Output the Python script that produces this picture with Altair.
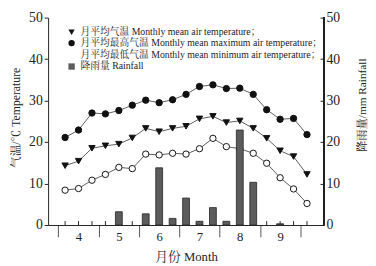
import altair as alt
import pandas as pd

# ---- data (dekads from early April to early October) ----
idx = list(range(1, 20))
t_max = [21.1, 22.9, 27.0, 26.8, 27.6, 28.9, 30.1, 29.5, 30.2, 31.5,
         33.4, 33.8, 32.9, 33.0, 31.5, 27.8, 25.5, 25.7, 21.8]
t_mean = [14.3, 15.4, 18.5, 19.1, 19.5, 21.0, 23.3, 22.5, 23.3, 23.8,
          25.6, 26.2, 24.7, 25.1, 23.3, 20.9, 17.9, 16.5, 12.2]
t_min = [8.4, 8.8, 10.8, 12.2, 13.9, 13.6, 17.1, 16.9, 17.3, 17.1,
         18.4, 20.9, 18.9, 18.4, 17.3, 14.9, 11.4, 8.7, 5.2]
rain = [0, 0, 0, 0, 3.2, 0, 2.7, 13.8, 1.6, 6.5,
        0.9, 4.2, 0.9, 22.9, 10.3, 0, 0.3, 0, 0]
month_labels = ["4", "5", "6", "7", "8", "9"]
y_ticks = [0, 10, 20, 30, 40, 50]

s_mean = "月平均气温 Monthly mean air temperature；"
s_max = "月平均最高气温 Monthly mean maximum air temperature；"
s_min = "月平均最低气温 Monthly mean minimum air temperature；"
s_rain = "降雨量 Rainfall"
series_order = [s_mean, s_max, s_min, s_rain]

rows = []
for name, vals in [(s_mean, t_mean), (s_max, t_max), (s_min, t_min)]:
    for i, v in zip(idx, vals):
        rows.append({"idx": i, "value": v, "series": name})
temp = pd.DataFrame(rows)
rain_df = pd.DataFrame({"idx": idx, "rain": rain})
idx_df = pd.DataFrame({"idx": idx})

FONT = "Liberation Serif, Noto Serif CJK SC, Noto Sans CJK SC"
W, H = 282, 212
BAR_FILL = "#5c5c5c"

# x axis: separators between months + month labels in the middle
sep_vals = [0.5 + 3 * k for k in range(7)]
lab_vals = [2 + 3 * k for k in range(len(month_labels))]
x_vals = sorted(sep_vals + lab_vals)
labels_js = "[" + ",".join("'" + m + "'" for m in month_labels) + "]"
label_expr = "datum.value % 3 == 2 ? " + labels_js + "[(datum.value - 2) / 3] : ''"

xscale = alt.Scale(domain=[0.1, 19.9], nice=False, zero=False)
xaxis = alt.Axis(
    values=x_vals,
    title="月份 Month",
    labelExpr=label_expr,
    tickSize=12,
    tickColor={"condition": {"test": "datum.value % 3 == 2", "value": "transparent"}, "value": "#555"},
    labelPadding=-6,
    labelFontSize=13,
    labelFlush=False,
    grid=False,
    titleFontSize=13,
    titleY=32,
    titleBaseline="middle",
)
X = alt.X("idx:Q", scale=xscale, axis=xaxis)

yscale_l = alt.Scale(domain=[0, 50], nice=False)
yscale_r = alt.Scale(domain=[0, 50], nice=False)
yaxis_l = alt.Axis(orient="left", values=y_ticks, title="气温/℃   Temperature",
                   tickSize=4, labelPadding=2, labelFontSize=14, grid=False,
                   titleFontSize=12, titleAngle=270, titleX=-33, titleY=102,
                   titleAlign="center", titleBaseline="middle")
yaxis_r = alt.Axis(orient="right", values=y_ticks, title="降雨量/mm  Rainfall",
                   tickSize=4, offset=-4, domain=False, labelPadding=2,
                   labelFontSize=14, grid=False,
                   titleFontSize=11.5, titleAngle=270, titleX=43, titleY=89,
                   titleAlign="center", titleBaseline="middle")

legend = alt.Legend(orient="none", legendX=19, legendY=10, title=None,
                    labelFont=FONT, labelFontSize=10, labelColor="#222",
                    labelLimit=400, labelOffset=4, symbolSize=42,
                    symbolStrokeColor="#111", symbolStrokeWidth=1,
                    rowPadding=0, padding=0)
fill_scale = alt.Scale(domain=series_order, range=["#111", "#111", "#ffffff", BAR_FILL])
shape_scale = alt.Scale(domain=series_order, range=["triangle-down", "circle", "circle", "square"])

lines = alt.Chart(temp).mark_line(color="#333", strokeWidth=0.8).encode(
    x=X,
    y=alt.Y("value:Q", scale=yscale_l, axis=yaxis_l),
    detail="series:N",
)
points = alt.Chart(temp).mark_point(filled=True, size=42, stroke="#111",
                                    strokeWidth=1, opacity=1).encode(
    x=X,
    y=alt.Y("value:Q", scale=yscale_l, axis=yaxis_l),
    shape=alt.Shape("series:N", scale=shape_scale, legend=legend),
    fill=alt.Fill("series:N", scale=fill_scale, legend=legend),
)
xticks = alt.Chart(idx_df).mark_rule(color="#222", strokeWidth=1).encode(
    x=X, y=alt.value(H), y2=alt.value(H - 4)
)
left = alt.layer(lines, points, xticks)

bars = alt.Chart(rain_df).transform_filter("datum.rain > 0").mark_bar(
    size=7, fill=BAR_FILL, stroke="#222", strokeWidth=0.8).encode(
    x=X,
    y=alt.Y("rain:Q", scale=yscale_r, axis=yaxis_r),
)
right_line = alt.Chart(idx_df).mark_rule(color="#222", strokeWidth=1).encode(
    x=alt.value(W), y=alt.value(0), y2=alt.value(H)
)
right = alt.layer(bars, right_line)

chart = alt.layer(left, right).resolve_scale(y="independent").properties(
    width=W, height=H, autosize="none",
    padding={"left": 41, "top": 7, "right": 45, "bottom": 37},
).configure_view(stroke=None).configure_axis(
    labelFont=FONT, titleFont=FONT, labelColor="#222", titleColor="#222",
    domainColor="#222", tickColor="#222", titleFontWeight="normal",
)

chart.save("out.html", embed_options={"renderer": "svg", "actions": False})
